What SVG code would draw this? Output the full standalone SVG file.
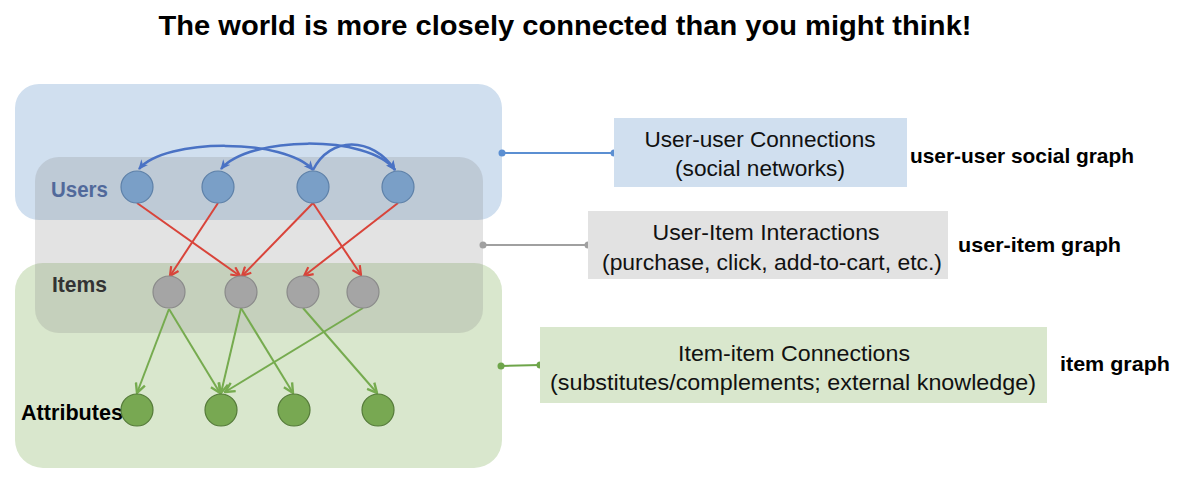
<svg xmlns="http://www.w3.org/2000/svg" width="1188" height="478" viewBox="0 0 1188 478">
<defs>
<style>
text{font-family:"Liberation Sans",Arial,sans-serif}
.bold{font-weight:bold}
.box{font-size:21.5px;fill:#111;text-anchor:middle}
.lab{font-size:21px;font-weight:bold;fill:#000}
.user{fill:#7a9fc7;stroke:#5d80a8;stroke-width:1.2}
.item{fill:#a5a5a5;stroke:#8a8a8a;stroke-width:1.2}
.attr{fill:#78a852;stroke:#547a38;stroke-width:1.2}
.blue{fill:none;stroke:#4a72c4;stroke-width:2.5}
.red{fill:none;stroke:#d9443a;stroke-width:2}
.green{fill:none;stroke:#76ab4f;stroke-width:2}
</style>
<marker id="mb" viewBox="0 0 10 10" refX="9" refY="5" markerWidth="10" markerHeight="10" markerUnits="userSpaceOnUse" orient="auto-start-reverse">
<path d="M0,0.5 L10,5 L0,9.5 L3,5 z" fill="#4a72c4"/>
</marker>
<marker id="mr" viewBox="0 0 10 10" refX="9" refY="5" markerWidth="11" markerHeight="11" markerUnits="userSpaceOnUse" orient="auto">
<path d="M1,1 L9,5 L1,9" fill="none" stroke="#d9443a" stroke-width="2"/>
</marker>
<marker id="mg" viewBox="0 0 10 10" refX="9" refY="5" markerWidth="12" markerHeight="12" markerUnits="userSpaceOnUse" orient="auto">
<path d="M1,1 L9,5 L1,9" fill="none" stroke="#76ab4f" stroke-width="2"/>
</marker>
</defs>

<text x="565" y="35" class="bold" font-size="27" text-anchor="middle" textLength="813" lengthAdjust="spacingAndGlyphs">The world is more closely connected than you might think!</text>

<g id="layers">
<rect id="layer-users" x="15" y="84" width="487" height="136" rx="24" fill="#d0dfef"/>
<rect id="layer-attrs" x="15" y="263" width="487" height="205" rx="28" fill="#d9e7cd"/>
<rect id="layer-items" x="35" y="157" width="448" height="176" rx="24" fill="#808080" fill-opacity="0.22"/>
<text x="51" y="197" class="bold" font-size="22" fill="#51699b" textLength="57" lengthAdjust="spacingAndGlyphs">Users</text>
<text x="52" y="292" class="bold" font-size="22" fill="#333" textLength="55" lengthAdjust="spacingAndGlyphs">Items</text>
<text x="21" y="420" class="bold" font-size="22" fill="#000" textLength="102" lengthAdjust="spacingAndGlyphs">Attributes</text>
</g>

<g id="connectors">
<path class="blue" d="M139,169 C165,138 285,138 313,170" marker-start="url(#mb)" marker-end="url(#mb)"/>
<path class="blue" d="M221,169 C248,136 368,134 395,170" marker-start="url(#mb)" marker-end="url(#mb)"/>
<path class="blue" d="M313,170 C330,136 372,136 395,170" marker-end="url(#mb)"/>
<line class="red" x1="137" y1="203" x2="240" y2="276" marker-end="url(#mr)"/>
<line class="red" x1="218" y1="203" x2="170" y2="276" marker-end="url(#mr)"/>
<line class="red" x1="313" y1="203" x2="242" y2="276" marker-end="url(#mr)"/>
<line class="red" x1="313" y1="203" x2="361" y2="275" marker-end="url(#mr)"/>
<line class="red" x1="398" y1="203" x2="304" y2="276" marker-end="url(#mr)"/>
<line class="green" x1="169" y1="309" x2="137" y2="393" marker-end="url(#mg)"/>
<line class="green" x1="169" y1="309" x2="220" y2="393" marker-end="url(#mg)"/>
<line class="green" x1="241" y1="308" x2="221" y2="393" marker-end="url(#mg)"/>
<line class="green" x1="241" y1="308" x2="293" y2="393" marker-end="url(#mg)"/>
<line class="green" x1="303" y1="308" x2="377" y2="393" marker-end="url(#mg)"/>
<line class="green" x1="363" y1="308" x2="225" y2="392" marker-end="url(#mg)"/>
<line x1="502" y1="153" x2="614" y2="153" stroke="#5b8fd2" stroke-width="2"/>
<circle cx="502" cy="153" r="3.5" fill="#5b8fd2"/><circle cx="614" cy="153" r="3.5" fill="#5b8fd2"/>
<line x1="483" y1="245" x2="588" y2="245" stroke="#a0a0a0" stroke-width="2"/>
<circle cx="483" cy="245" r="3.5" fill="#a0a0a0"/><circle cx="588" cy="245" r="3.5" fill="#a0a0a0"/>
<line x1="501" y1="366" x2="540" y2="365" stroke="#6ea54a" stroke-width="2"/>
<circle cx="501" cy="366" r="3.5" fill="#6ea54a"/><circle cx="540" cy="365" r="3.5" fill="#6ea54a"/>
</g>

<g id="u1"><circle class="user" cx="137" cy="187" r="16"/></g>
<g id="u2"><circle class="user" cx="218" cy="187" r="16"/></g>
<g id="u3"><circle class="user" cx="313" cy="187" r="16"/></g>
<g id="u4"><circle class="user" cx="398" cy="187" r="16"/></g>
<g id="i1"><circle class="item" cx="169" cy="292" r="16"/></g>
<g id="i2"><circle class="item" cx="241" cy="292" r="16"/></g>
<g id="i3"><circle class="item" cx="303" cy="292" r="16"/></g>
<g id="i4"><circle class="item" cx="363" cy="292" r="16"/></g>
<g id="a1"><circle class="attr" cx="137" cy="410" r="16"/></g>
<g id="a2"><circle class="attr" cx="221" cy="410" r="16"/></g>
<g id="a3"><circle class="attr" cx="294" cy="410" r="16"/></g>
<g id="a4"><circle class="attr" cx="378" cy="410" r="16"/></g>

<g id="box-user-user">
<rect x="614" y="118" width="293" height="69" fill="#d0dfef"/>
<text class="box" x="760" y="147" textLength="231" lengthAdjust="spacingAndGlyphs">User-user Connections</text>
<text class="box" x="760" y="176" textLength="170" lengthAdjust="spacingAndGlyphs">(social networks)</text>
<text class="lab" x="910" y="163" textLength="224" lengthAdjust="spacingAndGlyphs">user-user social graph</text>
</g>
<g id="box-user-item">
<rect x="588" y="211" width="360" height="68" fill="#e2e2e2"/>
<text class="box" x="766" y="240" textLength="227" lengthAdjust="spacingAndGlyphs">User-Item Interactions</text>
<text class="box" x="772" y="270" textLength="340" lengthAdjust="spacingAndGlyphs">(purchase, click, add-to-cart, etc.)</text>
<text class="lab" x="958" y="252" textLength="163" lengthAdjust="spacingAndGlyphs">user-item graph</text>
</g>
<g id="box-item-item">
<rect x="540" y="327" width="507" height="76" fill="#d9e7cd"/>
<text class="box" x="794" y="361" textLength="232" lengthAdjust="spacingAndGlyphs">Item-item Connections</text>
<text class="box" x="793" y="390" textLength="486" lengthAdjust="spacingAndGlyphs">(substitutes/complements; external knowledge)</text>
<text class="lab" x="1060" y="371" textLength="110" lengthAdjust="spacingAndGlyphs">item graph</text>
</g>
</svg>
